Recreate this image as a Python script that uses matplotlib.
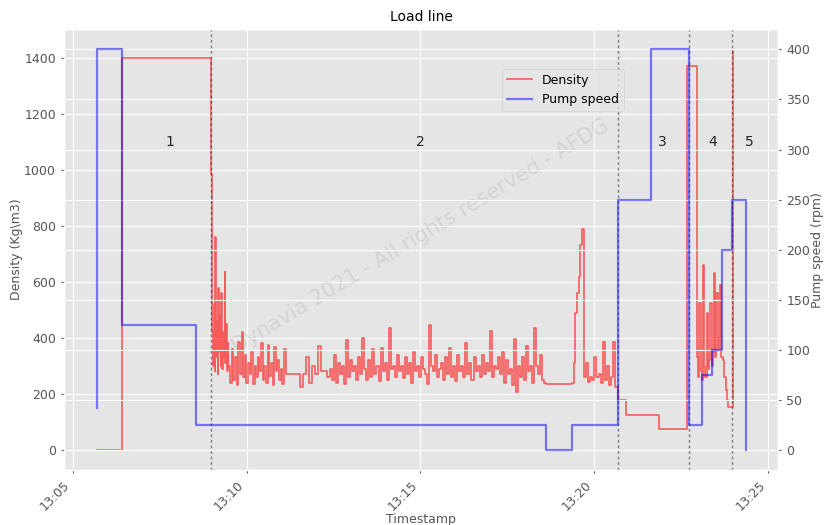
import numpy as np
import pandas as pd
import matplotlib
matplotlib.use("Agg")
import matplotlib.pyplot as plt
import matplotlib.dates as mdates

plt.style.use("ggplot")

BASE = pd.Timestamp("2021-01-01 13:00:00")

# ---------------- data (minutes after 13:00, values) ----------------
# Pump speed (rpm), step series
pump_t = [5.699, 5.700, 6.432, 8.545, 18.62, 19.36, 20.67, 21.63, 22.72, 23.09, 23.40, 23.66, 23.96, 24.35]
pump_v = [42, 400, 125, 25, 0, 25, 250, 400, 25, 75, 100, 200, 250, 0]

# Density (Kg/m3) explicit steps
dens_start_t = [5.699, 6.432]
dens_start_v = [0, 1400]

# noisy segments: (start minute, end minute, values)
dens_A = [985, 420, 300, 520, 280, 760, 330, 460, 270, 577, 350, 480, 300, 560, 290,
          420, 330, 634, 310, 450, 280, 380]
dens_B = [300, 240, 360, 250, 330, 230, 385, 270, 420, 260, 340, 240, 310, 270, 350,
          235, 300, 260, 330, 280, 381, 250, 300, 240, 374, 265, 310, 230, 367, 280,
          320, 250, 290, 235, 360, 270]
dens_C = [272]
dens_C2 = [225, 272, 330, 240, 300, 272, 370, 280, 280, 260]
dens_D = [290, 250, 340, 240, 310, 270, 300, 235, 392, 260, 320, 280, 300, 250, 330,
          270, 400, 290, 250, 320, 260, 360, 270, 300, 245, 363, 280, 310, 250, 435,
          290, 300, 260, 340, 280,
          300, 255, 330, 270, 310, 240, 350, 280, 300, 260, 330, 290, 270, 235, 445,
          300, 280, 340, 260, 290,
          310, 250, 330, 270, 363, 260, 300, 245, 340, 280, 300, 260, 381, 270, 310,
          250, 330, 280, 300, 260,
          340, 270, 310, 280, 424, 260, 300, 290, 330, 270, 350, 240, 320, 270, 290,
          230, 395, 207, 300, 260,
          330, 250, 370, 280, 300, 240, 435, 300, 270, 340, 250, 240]
dens_flat = [235]
dens_ramp = [238, 310, 488, 559, 616, 730, 790]
dens_E = [260, 310, 242, 260, 250, 331, 260, 270, 240, 385, 250, 300, 230, 260, 385, 225]
dens_mid_t = [20.67, 20.91, 21.86, 22.66]
dens_mid_v = [178, 125, 75, 1370]
dens_F = [330, 260, 523, 280, 250, 659, 300, 260, 488, 290, 320, 523, 300, 350, 630,
          330, 559, 360, 400, 588, 330]
dens_tail_t = [23.69, 23.74, 23.78, 23.82, 23.86, 23.99]
dens_tail_v = [320, 260, 214, 178, 153, 1425]

segments = [
    (8.99, 9.48, dens_A),
    (9.48, 11.17, dens_B),
    (11.17, 11.535, dens_C),
    (11.535, 12.40, dens_C2),
    (12.40, 18.62, dens_D),
    (18.62, 19.36, dens_flat),
    (19.36, 19.70, dens_ramp),
    (19.70, 20.67, dens_E),
]
segments2 = [(22.95, 23.69, dens_F)]

phase_lines = [8.99, 20.67, 22.72, 23.96]
phase_labels = ["1", "2", "3", "4", "5"]
phase_label_t = [7.80, 14.99, 21.97, 23.41, 24.45]
phase_label_y = 1100

# ---------------- assemble ----------------
dt, dv = list(dens_start_t), list(dens_start_v)
for s, e, vals in segments:
    dt += list(np.linspace(s, e, len(vals), endpoint=False))
    dv += vals
dt += dens_mid_t
dv += dens_mid_v
for s, e, vals in segments2:
    dt += list(np.linspace(s, e, len(vals), endpoint=False))
    dv += vals
dt += dens_tail_t
dv += dens_tail_v

def to_time(m):
    return BASE + pd.to_timedelta(np.asarray(m, dtype=float), unit="min")

dens_time = to_time(dt)
pump_time = to_time(pump_t)

# ---------------- plot ----------------
fig = plt.figure(figsize=(8.24, 5.25), dpi=100)
ax = fig.add_axes([0.078, 0.105, 0.866, 0.839])
ax2 = ax.twinx()

l1, = ax.plot(dens_time, dv, drawstyle="steps-post", color="red", alpha=0.6, lw=1.2, label="Density")
l2, = ax2.plot(pump_time, pump_v, drawstyle="steps-post", color="blue", alpha=0.5, lw=1.6, label="Pump speed")

for t in phase_lines:
    ax.axvline(to_time([t])[0], color="#333333", ls=(0, (2, 2)), lw=1, alpha=0.6)

for lab, t in zip(phase_labels, phase_label_t):
    ax.text(to_time([t])[0], phase_label_y, lab, ha="center", va="center", fontsize=10, color="#222222")

ax.set_xlim(to_time([4.758])[0], to_time([25.28])[0])
ax.set_ylim(-71.5, 1501)
ax2.set_ylim(-20, 420)

ax.xaxis.set_major_locator(mdates.MinuteLocator(byminute=range(0, 60, 5)))
ax.xaxis.set_major_formatter(mdates.DateFormatter("%H:%M"))
for lbl in ax.get_xticklabels():
    lbl.set_rotation(45)
    lbl.set_ha("right")

ax.tick_params(labelsize=9, colors="#555555", length=2.5)
ax2.tick_params(labelsize=9, colors="#555555", length=2.5)
ax.set_yticks(range(0, 1401, 200))
ax2.set_yticks(range(0, 401, 50))

ax.set_xlabel("Timestamp", fontsize=9, color="#555555", labelpad=0)
ax.set_ylabel("Density (Kg\\m3)", fontsize=9, color="#555555", labelpad=0.5)
ax2.set_ylabel("Pump speed (rpm)", fontsize=9, color="#555555", labelpad=0.5)
ax.set_title("Load line", fontsize=10, color="black")

ax.text(0.5, 0.53, "Dynavia 2021 - All rights reserved - AFDG", transform=ax.transAxes,
        rotation=31, ha="center", va="center", fontsize=15, color="gray", alpha=0.18)

leg = ax2.legend(handles=[l1, l2], loc="upper left", bbox_to_anchor=(0.605, 0.925),
                 fontsize=9, frameon=True)

fig.savefig("out.png", dpi=100)
